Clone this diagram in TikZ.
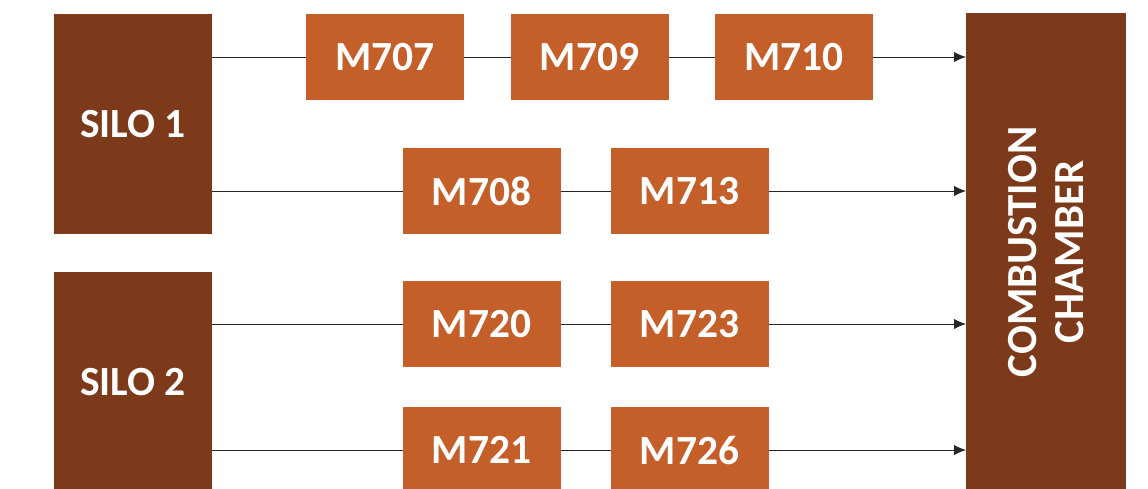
\documentclass[tikz,border=0pt]{standalone}
\usepackage{fontspec}
\setsansfont{Carlito}
\usetikzlibrary{arrows.meta}
\definecolor{silobrown}{HTML}{7C3A1A}
\definecolor{unitorange}{HTML}{C45F2A}
\tikzset{
  silo/.style={fill=silobrown,text=white,minimum width=3.95cm,minimum height=5.5cm,inner sep=0pt,outer sep=0pt},
  unit/.style={fill=unitorange,text=white,minimum width=3.95cm,minimum height=2.15cm,inner sep=0pt,outer sep=0pt},
  feed/.style={line width=0.7pt,black!85}
}
\begin{document}
\begin{tikzpicture}[font=\sffamily\bfseries\fontsize{29.5}{35}\selectfont,>={Latex[length=3mm,width=2.6mm]}]
\useasboundingbox (0,0) rectangle (28.7,-12.2);
\node[silo] (silo1) at (3.325,-3.1) {SILO 1};
\node[silo] (silo2) at (3.325,-9.55) {SILO 2};
\node[silo,minimum width=4cm,minimum height=11.95cm] (chamber) at (26.15,-6.3) {};
\node[rotate=90,text=white,align=center,font=\sffamily\bfseries\fontsize{30.5}{34}\selectfont] at (chamber.center) {COMBUSTION\\CHAMBER};
% units on each feed line
\foreach \n/\x/\y in {m707/9.625/-1.425,m709/14.74/-1.425,m710/19.85/-1.425,
                      m708/12.04/-4.775,m713/17.24/-4.775,
                      m720/12.04/-8.1,m723/17.24/-8.1,
                      m721/12.04/-11.25,m726/17.24/-11.25}{
  \node[unit] (\n) at (\x,\y) {\MakeUppercase{\n}};
}
% feed lines
\draw[feed] (m707.west -| silo1.east) -- (m707) (m707) -- (m709) (m709) -- (m710);
\draw[feed,->] (m710.east) -- (m710.east -| chamber.west);
\draw[feed] (m708.west -| silo1.east) -- (m708) (m708) -- (m713);
\draw[feed,->] (m713.east) -- (m713.east -| chamber.west);
\draw[feed] (m720.west -| silo2.east) -- (m720) (m720) -- (m723);
\draw[feed,->] (m723.east) -- (m723.east -| chamber.west);
\draw[feed] (m721.west -| silo2.east) -- (m721) (m721) -- (m726);
\draw[feed,->] (m726.east) -- (m726.east -| chamber.west);
\end{tikzpicture}
\end{document}
